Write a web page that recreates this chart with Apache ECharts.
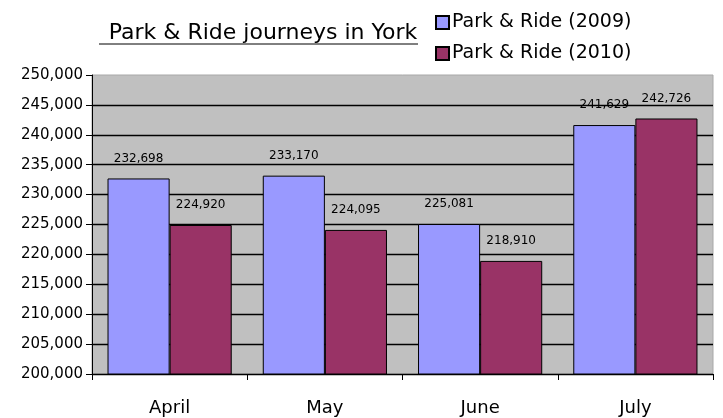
<!DOCTYPE html>
<html>
<head>
<meta charset="utf-8" />
<title>Park & Ride</title>
<script src="https://cdn.jsdelivr.net/npm/echarts@6/dist/echarts.min.js"></script>
<style>
  html, body { margin: 0; padding: 0; background: #fff; }
  #chart { width: 723px; height: 418px; }
</style>
</head>
<body>
<div id="chart"></div>
<script>
// months on the x axis
var months = ['April', 'May', 'June', 'July'];
// journeys per month
var rides2009 = [232698, 233170, 225081, 241629];
var rides2010 = [224920, 224095, 218910, 242726];
var seriesNames = ['Park & Ride (2009)', 'Park & Ride (2010)'];

var font = 'DejaVu Sans';

function fmt(v) {
  return String(v).replace(/\B(?=(\d{3})+(?!\d))/g, ',');
}

var labelOpt = {
  show: true,
  position: 'top',
  distance: 14,
  color: '#000',
  fontFamily: font,
  fontSize: 12,
  formatter: function (p) { return fmt(p.value); }
};

var chart = echarts.init(document.getElementById('chart'));
chart.setOption({
  animation: false,
  backgroundColor: '#fff',
  title: {
    text: 'Park & Ride journeys in York',
    left: 258,
    textAlign: 'center',
    top: 17,
    textStyle: { fontFamily: font, fontWeight: 'normal', fontSize: 22, color: '#000' }
  },
  // underline under the title
  graphic: [{
    type: 'line',
    shape: { x1: 99, y1: 44, x2: 418, y2: 44 },
    style: { stroke: '#000', lineWidth: 1 }
  }],
  legend: {
    orient: 'vertical',
    left: 430,
    top: 8,
    itemGap: 12,
    itemWidth: 13,
    itemHeight: 13,
    icon: 'rect',
    textStyle: { fontFamily: font, fontSize: 19, color: '#000', padding: [0, 0, 0, -2] },
    data: seriesNames
  },
  grid: {
    left: 92,
    right: 10,
    top: 75,
    bottom: 44,
    show: true,
    backgroundColor: '#c0c0c0',
    borderColor: '#a8a8a8',
    borderWidth: 1
  },
  xAxis: {
    type: 'category',
    data: months,
    axisLine: { lineStyle: { color: '#000', width: 1 } },
    axisTick: { show: true, length: 6, lineStyle: { color: '#000' } },
    axisLabel: { fontFamily: font, fontSize: 18, color: '#000', margin: 25 }
  },
  yAxis: {
    type: 'value',
    min: 200000,
    max: 250000,
    interval: 5000,
    axisLine: { show: true, lineStyle: { color: '#000', width: 1 } },
    axisTick: { show: true, length: 6, lineStyle: { color: '#000' } },
    axisLabel: {
      fontFamily: font, fontSize: 15, color: '#000', margin: 9,
      formatter: function (v) { return fmt(v); }
    },
    splitLine: { show: true, showMaxLine: false, lineStyle: { color: '#000', width: 1.4 } }
  },
  series: [{
    name: seriesNames[0],
    type: 'bar',
    data: rides2009,
    barGap: '0%',
    barCategoryGap: '20%',
    itemStyle: { color: '#9999ff', borderColor: '#000', borderWidth: 1 },
    label: labelOpt
  }, {
    name: seriesNames[1],
    type: 'bar',
    data: rides2010,
    itemStyle: { color: '#993366', borderColor: '#000', borderWidth: 1 },
    label: labelOpt
  }]
});
</script>
</body>
</html>
